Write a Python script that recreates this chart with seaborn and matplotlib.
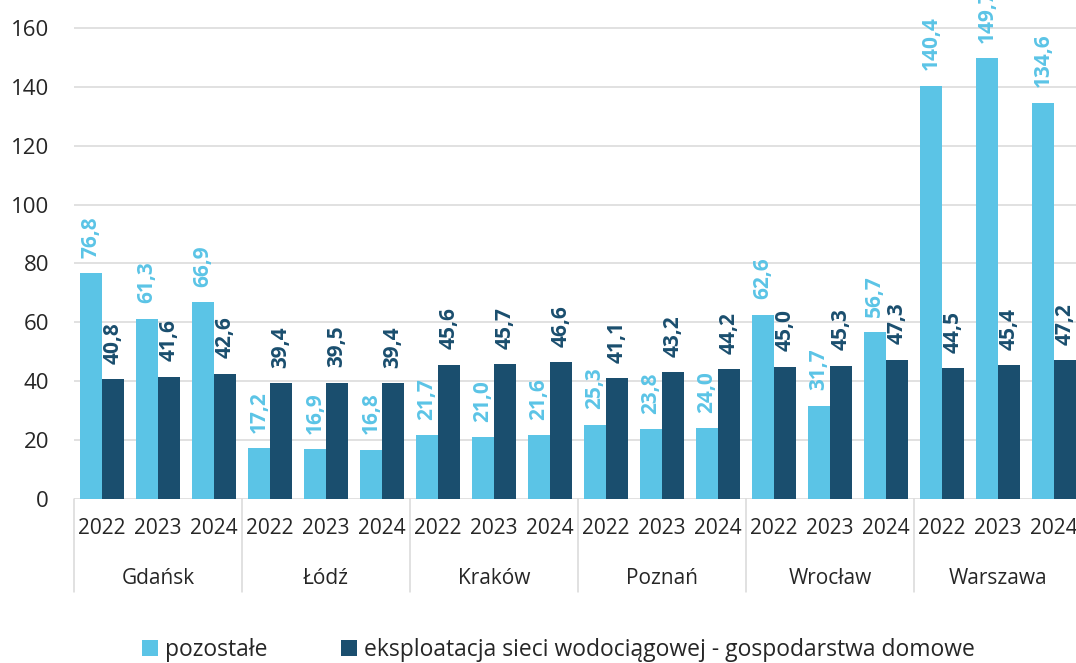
import pandas as pd
import matplotlib
matplotlib.use("Agg")
import matplotlib.pyplot as plt
import seaborn as sns

# Dane
miasta = ["Gdańsk", "Łódź", "Kraków", "Poznań", "Wrocław", "Warszawa"]
lata = ["2022", "2023", "2024"]
pozostale = [76.8, 61.3, 66.9, 17.2, 16.9, 16.8, 21.7, 21.0, 21.6,
             25.3, 23.8, 24.0, 62.6, 31.7, 56.7, 140.4, 149.7, 134.6]
eksploatacja = [40.8, 41.6, 42.6, 39.4, 39.5, 39.4, 45.6, 45.7, 46.6,
                41.1, 43.2, 44.2, 45.0, 45.3, 47.3, 44.5, 45.4, 47.2]
serie = ["pozostałe", "eksploatacja sieci wodociągowej - gospodarstwa domowe"]
kolory = ["#5BC4E6", "#1A4E6E"]
y_ticks = [0, 20, 40, 60, 80, 100, 120, 140, 160]

kategorie = [f"{m} {r}" for m in miasta for r in lata]
df = pd.DataFrame({
    "kategoria": kategorie * 2,
    "seria": [serie[0]] * len(kategorie) + [serie[1]] * len(kategorie),
    "wartosc": pozostale + eksploatacja,
})

sns.set_style("white")
plt.rcParams["font.family"] = ["Open Sans", "DejaVu Sans"]

fig = plt.figure(figsize=(10.76, 6.63), dpi=100)
ax = fig.add_axes([74 / 1076, 164 / 663, 1008 / 1076, 499 / 663])

sns.barplot(data=df, x="kategoria", y="wartosc", hue="seria", hue_order=serie,
            palette=kolory, saturation=1, width=0.8, ax=ax, order=kategorie,
            linewidth=0, edgecolor="none")

# etykiety danych
for cont, vals, kol in zip(ax.containers, [pozostale, eksploatacja], kolory):
    ax.bar_label(cont, labels=[f"{v:.1f}".replace(".", ",") for v in vals],
                 padding=11, rotation=90, color=kol, fontweight="bold",
                 fontsize=15)

ax.set_xlim(-0.5, len(kategorie) - 0.5)
ax.set_ylim(0, 169.5)
ax.set_yticks(y_ticks)
ax.set_yticklabels([str(t) for t in y_ticks], fontsize=16)
ax.set_xticks(range(len(kategorie)))
ax.set_xticklabels(lata * len(miasta), fontsize=15)
ax.tick_params(axis="y", length=0, pad=18)
ax.tick_params(axis="x", length=0, pad=14)
ax.set_xlabel("")
ax.set_ylabel("")
ax.grid(axis="y", color="#D9D9D9", linewidth=1.1)
ax.set_axisbelow(True)
for s in ax.spines.values():
    s.set_visible(False)

# druga linia osi X: miasta + separatory
trans = ax.get_xaxis_transform()
for i, m in enumerate(miasta):
    ax.text(i * 3 + 1, -79 / 499, m, transform=trans, ha="center",
            va="center", fontsize=15)
for i in range(len(miasta) + 1):
    ax.plot([i * 3 - 0.5, i * 3 - 0.5], [0, -93 / 499], transform=trans,
            color="#D9D9D9", linewidth=1.1, clip_on=False)

handles, labels = ax.get_legend_handles_labels()
ax.get_legend().remove()
fig.legend(handles, labels, loc="center", bbox_to_anchor=(0.519, 13 / 663),
           ncol=2, frameon=False, fontsize=16.5, handlelength=0.7,
           handleheight=0.7, handletextpad=0.3, columnspacing=3.2)

fig.savefig("out.png", dpi=100)
